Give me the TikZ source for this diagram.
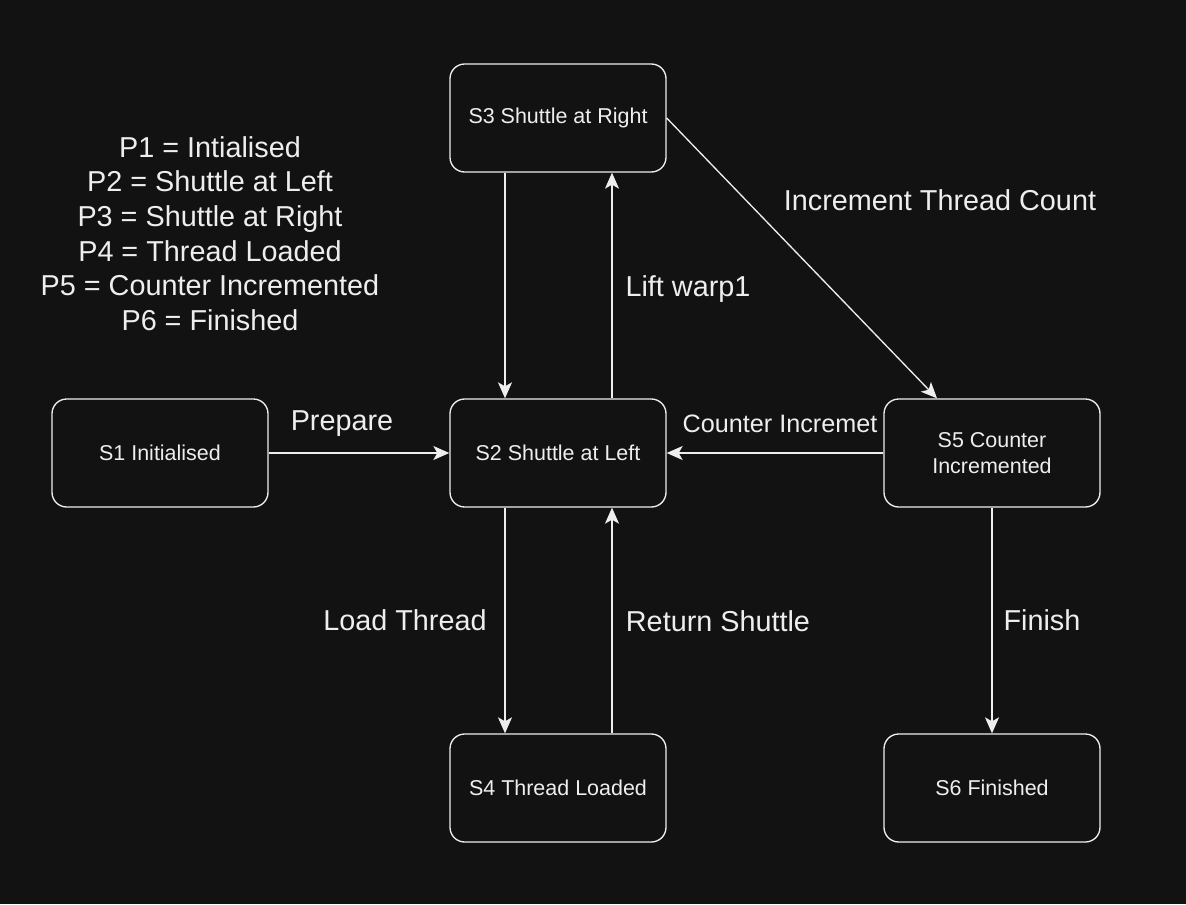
\documentclass[tikz,border=0pt]{standalone}
\usepackage{fontspec}
\setmainfont{Liberation Sans}
\usetikzlibrary{arrows.meta}
\definecolor{bg}{HTML}{121212}
\definecolor{fg}{HTML}{EEEEEE}
\begin{document}
\begin{tikzpicture}[x=0.75pt,y=-0.75pt,
  state/.style={draw=fg,line width=1pt,rounded corners=11pt,fill=bg,text=fg,
    minimum width=162pt,minimum height=81pt,inner sep=0pt,align=center,
    font=\fontsize{16.1}{19.5}\selectfont},
  arr/.style={draw=fg,line width=1pt,-{Stealth[length=12pt,width=10.5pt,inset=3pt]}},
  lbl/.style={text=fg,inner sep=0pt,font=\fontsize{21.6}{26}\selectfont,align=center}]
\fill[bg] (0,0) rectangle (1186,904);
\useasboundingbox (0,0) rectangle (1186,904);
\node[state] (S3) at (558,118) {S3 Shuttle at Right};
\node[state] (S2) at (558,453) {S2 Shuttle at Left};
\node[state] (S1) at (160,453) {S1 Initialised};
\node[state] (S5) at (992,453) {S5 Counter\\Incremented};
\node[state] (S4) at (558,788) {S4 Thread Loaded};
\node[state] (S6) at (992,788) {S6 Finished};
\coordinate (xl) at (505,0);
\coordinate (xr) at (612,0);
\coordinate (xd) at (937,0);
\draw[arr] (S3.south -| xl) -- (S2.north -| xl);
\draw[arr] (S2.north -| xr) -- (S3.south -| xr);
\draw[arr] (S2.south -| xl) -- (S4.north -| xl);
\draw[arr] (S4.north -| xr) -- (S2.south -| xr);
\draw[arr] (S1.east) -- (S2.west);
\draw[arr] (S5.west) -- (S2.east);
\draw[arr] (S5.south) -- (S6.north);
\draw[arr] (S3.east) -- (S5.north -| xd);
\node[lbl] (lprep) at (342,424) {Prepare};
\node[lbl,font=\fontsize{18.9}{23}\selectfont] (lcnt) at (780,424) {Counter Incremet};
\node[lbl] (llift) at (688,289) {Lift warp1};
\node[lbl] (linc) at (940,200) {Increment Thread Count};
\node[lbl] (lload) at (405,620) {Load Thread};
\node[lbl] (lret) at (718,621) {Return Shuttle};
\node[lbl] (lfin) at (1042,620) {Finish};
\node[lbl] (legend) at (210,233.5) {P1 = Intialised\\P2 = Shuttle at Left\\P3 = Shuttle at Right\\P4 = Thread Loaded\\P5 = Counter Incremented\\P6 = Finished};
\end{tikzpicture}
\end{document}
